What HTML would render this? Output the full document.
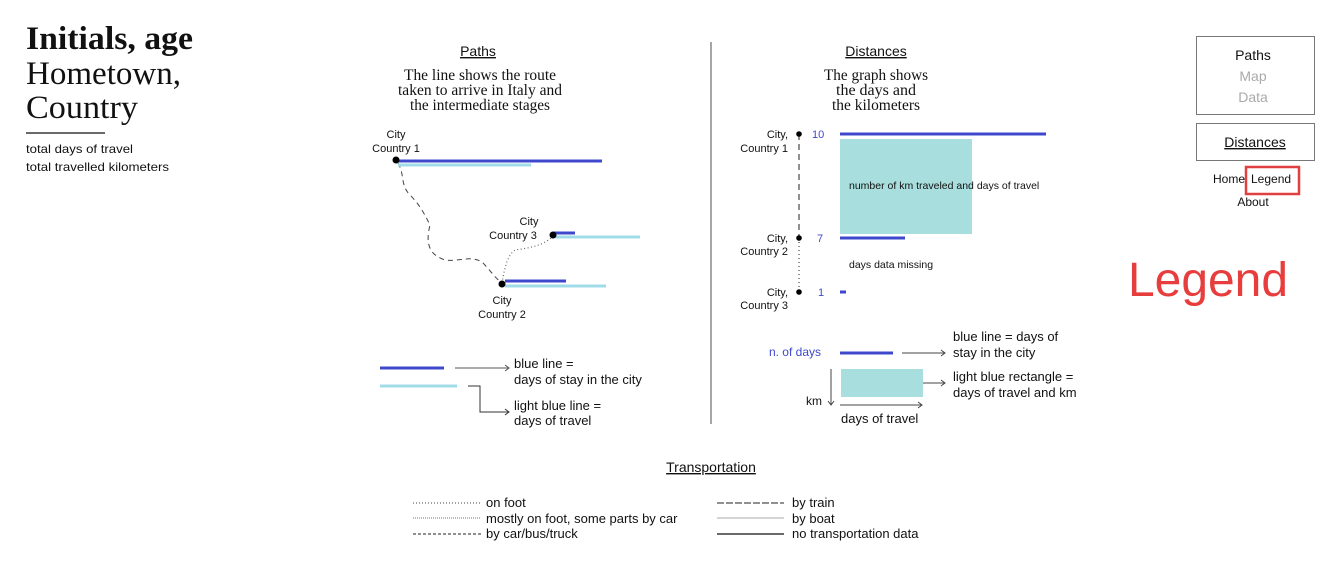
<!DOCTYPE html>
<html><head><meta charset="utf-8"><style>
html,body{margin:0;padding:0;background:#fff;width:1328px;height:573px;overflow:hidden}
svg{display:block}
.s{font-family:"Liberation Sans",sans-serif;fill:#111}
.r{font-family:"Liberation Serif",serif;fill:#111}
</style></head><body>
<svg width="1328" height="573" viewBox="0 0 1328 573" xmlns="http://www.w3.org/2000/svg">
<!-- Left header -->
<text x="26" y="49" class="r" font-size="33" font-weight="bold" textLength="167" lengthAdjust="spacingAndGlyphs">Initials, age</text>
<text x="26" y="84" class="r" font-size="33" textLength="155" lengthAdjust="spacingAndGlyphs">Hometown,</text>
<text x="26" y="118" class="r" font-size="33" textLength="112" lengthAdjust="spacingAndGlyphs">Country</text>
<line x1="26" y1="133" x2="105" y2="133" stroke="#111" stroke-width="1.2"/>
<text x="26" y="153" class="s" font-size="12" fill="#333" textLength="107" lengthAdjust="spacingAndGlyphs">total days of travel</text>
<text x="26" y="171" class="s" font-size="12" fill="#333" textLength="143" lengthAdjust="spacingAndGlyphs">total travelled kilometers</text>

<!-- Paths -->
<text x="478" y="56" class="s" font-size="14" text-anchor="middle" text-decoration="underline">Paths</text>
<g class="r" font-size="16" text-anchor="middle">
<text x="480" y="80" textLength="152" lengthAdjust="spacingAndGlyphs">The line shows the route</text>
<text x="480" y="95" textLength="164" lengthAdjust="spacingAndGlyphs">taken to arrive in Italy and</text>
<text x="480" y="110" textLength="140" lengthAdjust="spacingAndGlyphs">the intermediate stages</text>
</g>
<g class="s" font-size="11" text-anchor="middle">
<text x="396" y="138">City</text><text x="396" y="152">Country 1</text>
<text x="529" y="225">City</text><text x="513" y="239">Country 3</text>
<text x="502" y="304">City</text><text x="502" y="318">Country 2</text>
</g>
<path d="M398 163 C405 175,400 185,410 195 C420 205,425 215,430 225 C425 245,430 255,445 260 C460 262,470 255,482 262 C490 270,495 278,502 283" fill="none" stroke="#444" stroke-width="1" stroke-dasharray="5,4"/>
<path d="M502 283 C505 265,508 255,515 250 C530 248,545 245,553 236" fill="none" stroke="#666" stroke-width="1.2" stroke-dasharray="1,2.5"/>
<line x1="396" y1="161" x2="602" y2="161" stroke="#3f48cc" stroke-width="3"/>
<line x1="398" y1="165" x2="531" y2="165" stroke="#a0dce8" stroke-width="3"/>
<line x1="553" y1="233" x2="575" y2="233" stroke="#3f48cc" stroke-width="3"/>
<line x1="555" y1="237" x2="640" y2="237" stroke="#a0dce8" stroke-width="3"/>
<line x1="505" y1="281" x2="566" y2="281" stroke="#3f48cc" stroke-width="3"/>
<line x1="505" y1="286" x2="606" y2="286" stroke="#a0dce8" stroke-width="3"/>
<circle cx="396" cy="160" r="3.5" fill="#000"/>
<circle cx="553" cy="235" r="3.5" fill="#000"/>
<circle cx="502" cy="284" r="3.5" fill="#000"/>
<!-- Paths legend -->
<line x1="380" y1="368" x2="444" y2="368" stroke="#3f48cc" stroke-width="3"/>
<line x1="380" y1="386" x2="457" y2="386" stroke="#a0dce8" stroke-width="3"/>
<path d="M455 368 H509 M505 365 L509 368 L505 371" fill="none" stroke="#555" stroke-width="1"/>
<path d="M468 386 H480 V412 H509 M505 409 L509 412 L505 415" fill="none" stroke="#333" stroke-width="1"/>
<g class="s" font-size="13">
<text x="514" y="368">blue line =</text>
<text x="514" y="384">days of stay in the city</text>
<text x="514" y="410">light blue line =</text>
<text x="514" y="425">days of travel</text>
</g>

<line x1="711" y1="42" x2="711" y2="424" stroke="#888" stroke-width="1.5"/>

<!-- Distances -->
<text x="876" y="56" class="s" font-size="14" text-anchor="middle" text-decoration="underline">Distances</text>
<g class="r" font-size="16" text-anchor="middle">
<text x="876" y="80" textLength="104" lengthAdjust="spacingAndGlyphs">The graph shows</text>
<text x="876" y="95" textLength="80" lengthAdjust="spacingAndGlyphs">the days and</text>
<text x="876" y="110" textLength="88" lengthAdjust="spacingAndGlyphs">the kilometers</text>
</g>
<line x1="799" y1="134" x2="799" y2="238" stroke="#222" stroke-width="1" stroke-dasharray="6,4"/>
<line x1="799" y1="238" x2="799" y2="292" stroke="#222" stroke-width="1" stroke-dasharray="1,3"/>
<circle cx="799" cy="134" r="2.8" fill="#000"/>
<circle cx="799" cy="238" r="2.8" fill="#000"/>
<circle cx="799" cy="292" r="2.8" fill="#000"/>
<g class="s" font-size="11" text-anchor="end">
<text x="788" y="138">City,</text><text x="788" y="152">Country 1</text>
<text x="788" y="242">City,</text><text x="788" y="255">Country 2</text>
<text x="788" y="296">City,</text><text x="788" y="309">Country 3</text>
</g>
<g class="s" font-size="11" style="fill:#3f48cc">
<text x="812" y="138">10</text><text x="817" y="242">7</text><text x="818" y="296">1</text>
</g>
<line x1="840" y1="134" x2="1046" y2="134" stroke="#3f48cc" stroke-width="3"/>
<rect x="840" y="139" width="132" height="95" fill="#a8dedd"/>
<text x="849" y="189" class="s" font-size="10.5">number of km traveled and days of travel</text>
<line x1="840" y1="238" x2="905" y2="238" stroke="#3f48cc" stroke-width="3"/>
<text x="849" y="268" class="s" font-size="10.5">days data missing</text>
<line x1="840" y1="292" x2="846" y2="292" stroke="#3f48cc" stroke-width="3"/>
<!-- Distances legend -->
<text x="821" y="356" class="s" font-size="12" text-anchor="end" style="fill:#3f48cc">n. of days</text>
<line x1="840" y1="353" x2="893" y2="353" stroke="#3f48cc" stroke-width="3"/>
<path d="M902 353 H945 M941 350 L945 353 L941 356" fill="none" stroke="#444" stroke-width="1"/>
<rect x="841" y="369" width="82" height="28" fill="#a8dedd"/>
<path d="M923 383 H945 M941 380 L945 383 L941 386" fill="none" stroke="#444" stroke-width="1"/>
<path d="M831 369 V405 M828 401 L831 405 L834 401" fill="none" stroke="#444" stroke-width="1"/>
<path d="M840 405 H922 M918 402 L922 405 L918 408" fill="none" stroke="#444" stroke-width="1"/>
<g class="s" font-size="13">
<text x="953" y="341">blue line = days of</text>
<text x="953" y="357">stay in the city</text>
<text x="953" y="381">light blue rectangle =</text>
<text x="953" y="397">days of travel and km</text>
<text x="806" y="405" font-size="12">km</text>
<text x="841" y="423">days of travel</text>
</g>

<!-- Nav -->
<rect x="1196.5" y="36.5" width="118" height="78" fill="none" stroke="#777" stroke-width="1"/>
<g class="s" font-size="14" text-anchor="middle">
<text x="1253" y="60">Paths</text>
<text x="1253" y="81" style="fill:#aaa">Map</text>
<text x="1253" y="102" style="fill:#aaa">Data</text>
</g>
<rect x="1196.5" y="123.5" width="118" height="37" fill="none" stroke="#777" stroke-width="1"/>
<text x="1255" y="147" class="s" font-size="14" text-anchor="middle" text-decoration="underline">Distances</text>
<text x="1213" y="183" class="s" font-size="12">Home</text>
<rect x="1246" y="167" width="53" height="27" fill="none" stroke="#e04040" stroke-width="2.5"/>
<text x="1251" y="183" class="s" font-size="12">Legend</text>
<text x="1253" y="206" class="s" font-size="12" text-anchor="middle">About</text>
<text x="1128" y="296" class="s" font-size="48" style="fill:#e83d3d" textLength="160" lengthAdjust="spacingAndGlyphs">Legend</text>

<!-- Transportation -->
<text x="711" y="472" class="s" font-size="14" text-anchor="middle" text-decoration="underline">Transportation</text>
<line x1="413" y1="503" x2="481" y2="503" stroke="#444" stroke-width="1" stroke-dasharray="1,2"/>
<line x1="413" y1="518" x2="481" y2="518" stroke="#777" stroke-width="1" stroke-dasharray="1,1"/>
<line x1="413" y1="534" x2="481" y2="534" stroke="#222" stroke-width="1" stroke-dasharray="3,2"/>
<line x1="717" y1="503" x2="784" y2="503" stroke="#222" stroke-width="1" stroke-dasharray="7,2"/>
<line x1="717" y1="518" x2="784" y2="518" stroke="#bbb" stroke-width="1.2"/>
<line x1="717" y1="534" x2="784" y2="534" stroke="#111" stroke-width="1.2"/>
<g class="s" font-size="13">
<text x="486" y="507">on foot</text>
<text x="486" y="523">mostly on foot, some parts by car</text>
<text x="486" y="538">by car/bus/truck</text>
<text x="792" y="507">by train</text>
<text x="792" y="523">by boat</text>
<text x="792" y="538">no transportation data</text>
</g>
</svg>
</body></html>
